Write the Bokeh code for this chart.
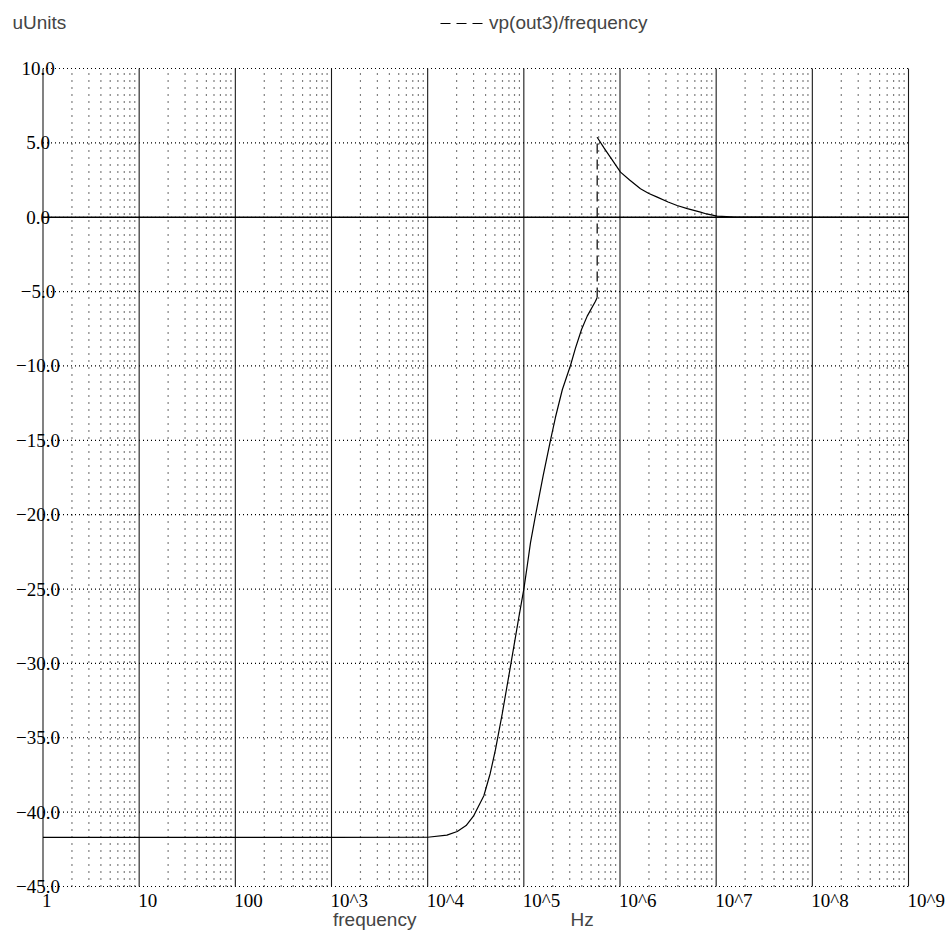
import math
from bokeh.plotting import figure
from bokeh.models import (ColumnDataSource, LabelSet, Label, Legend, LegendItem)
from bokeh.embed import file_html
from bokeh.resources import INLINE

# ---------------- data ----------------
x_decades = [1, 10, 100, 1e3, 1e4, 1e5, 1e6, 1e7, 1e8, 1e9]
x_tick_labels = ["1", "10", "100", "10^3", "10^4", "10^5", "10^6", "10^7", "10^8", "10^9"]
y_ticks = [10, 5, 0, -5, -10, -15, -20, -25, -30, -35, -40, -45]
y_tick_labels = ["10.0", "5.0", "0.0", "\u22125.0", "\u221210.0", "\u221215.0", "\u221220.0",
                 "\u221225.0", "\u221230.0", "\u221235.0", "\u221240.0", "\u221245.0"]

# lower branch of vp(out3)/frequency
freq_low = [1, 10, 100, 1e3, 1e4, 1.585e4, 2.03e4, 2.51e4, 3.02e4, 3.84e4, 4.47e4,
            5.07e4, 5.96e4, 7.26e4, 8.87e4, 1.0e5, 1.087e5, 1.172e5, 1.321e5, 1.585e5,
            1.892e5, 2.133e5, 2.512e5, 3.055e5, 3.443e5, 3.981e5, 4.56e5, 5.56e5, 5.79e5]
val_low = [-41.7, -41.7, -41.7, -41.7, -41.69, -41.55, -41.3, -40.9, -40.23, -38.9, -37.4,
           -35.8, -33.4, -30.2, -26.9, -25.0, -23.4, -21.9, -20.06, -17.4,
           -15.0, -13.45, -11.6, -9.97, -8.8, -7.55, -6.65, -5.65, -5.4]
# upper branch
freq_up = [5.79e5, 6.76e5, 7.96e5, 1.012e6, 1.259e6, 1.633e6, 1.995e6, 2.438e6, 3.162e6,
           3.926e6, 5.012e6, 6.871e6, 7.943e6, 1.023e7, 1.585e7, 1e8, 1e9]
val_up = [5.38, 4.7, 4.03, 3.03, 2.5, 1.91, 1.6, 1.35, 1.02, 0.79, 0.58, 0.34, 0.22, 0.07,
          0.01, 0.0, 0.0]

FONT = "Liberation Sans"
FS = "19px"

# layout (canvas pixels)
W, H = 950, 931
LEFT, RIGHT, TOP, BOTTOM = 42.5, 908.0, 68.0, 886.0
x_lo, x_hi = math.log10(x_decades[0]), math.log10(x_decades[-1])
y_lo, y_hi = min(y_ticks), max(y_ticks)
ppd = (RIGHT - LEFT) / (x_hi - x_lo)
ppu = (BOTTOM - TOP) / (y_hi - y_lo)
xr = (10 ** (x_lo - LEFT / ppd), 10 ** (x_hi + (W - RIGHT) / ppd))
yr = (y_lo - (H - BOTTOM) / ppu, y_hi + TOP / ppu)

p = figure(x_axis_type="log", x_range=xr, y_range=yr, width=W, height=H,
           output_backend="svg", toolbar_location=None, background_fill_color="white")
p.min_border = 0
p.outline_line_color = None
p.xaxis.visible = False
p.yaxis.visible = False
p.xgrid.visible = False
p.ygrid.visible = False

# minor vertical grid (dotted)
minor = [m * d for d in x_decades[:-1] for m in range(2, 10)]
p.segment(x0=minor, y0=[y_lo] * len(minor), x1=minor, y1=[y_hi] * len(minor),
          line_color="black", line_width=1.2, line_dash="1 6")
# horizontal grid (dotted)
p.segment(x0=[x_decades[0]] * len(y_ticks), y0=y_ticks,
          x1=[x_decades[-1]] * len(y_ticks), y1=y_ticks,
          line_color="black", line_width=1.2, line_dash="1 3")
# decade lines (solid)
p.segment(x0=x_decades, y0=[y_lo] * len(x_decades), x1=x_decades, y1=[y_hi] * len(x_decades),
          line_color="black", line_width=1.1, line_alpha=0.9)
# zero line
p.segment(x0=[x_decades[0]], y0=[0], x1=[x_decades[-1]], y1=[0],
          line_color="black", line_width=1.3)

# trace
r_low = p.line(freq_low, val_low, line_color="black", line_width=1.2)
r_jump = p.line([freq_low[-1], freq_up[0]], [val_low[-1], val_up[0]],
                line_color="black", line_width=1.2, line_dash="10 6")
r_up = p.line(freq_up, val_up, line_color="black", line_width=1.2)

# tick labels
xsrc = ColumnDataSource(dict(x=x_decades, y=[y_lo] * len(x_decades), t=x_tick_labels))
p.add_layout(LabelSet(x="x", y="y", text="t", source=xsrc, text_align="left",
                      text_baseline="alphabetic", y_offset=-20, x_offset=-1,
                      text_font=FONT, text_font_size=FS, text_color="black"))
ysrc = ColumnDataSource(dict(x=[x_decades[0]] * len(y_ticks), y=y_ticks, t=y_tick_labels))
p.add_layout(LabelSet(x="x", y="y", text="t", source=ysrc, text_align="center",
                      text_baseline="middle", x_offset=-5,
                      text_font=FONT, text_font_size=FS, text_color="black"))

p.add_layout(Label(x=x_decades[0], y=y_hi, x_offset=-30.5, y_offset=46, text="uUnits",
                   text_font=FONT, text_font_size=FS, text_baseline="alphabetic"))
p.add_layout(Label(x=x_decades[0], y=y_lo, x_offset=290, y_offset=-33, text="frequency",
                   text_font=FONT, text_font_size=FS, text_baseline="alphabetic"))
p.add_layout(Label(x=x_decades[0], y=y_lo, x_offset=527.5, y_offset=-33, text="Hz",
                   text_font=FONT, text_font_size=FS, text_baseline="alphabetic"))

legend = Legend(items=[LegendItem(label="vp(out3)/frequency", renderers=[r_jump])],
                location=(440, H - 34), padding=0, margin=0, spacing=0,
                border_line_color=None, background_fill_alpha=0,
                glyph_width=43, label_standoff=6,
                label_text_font=FONT, label_text_font_size=FS)
p.add_layout(legend, "center")

open("out.html", "w").write(file_html(p, INLINE))
